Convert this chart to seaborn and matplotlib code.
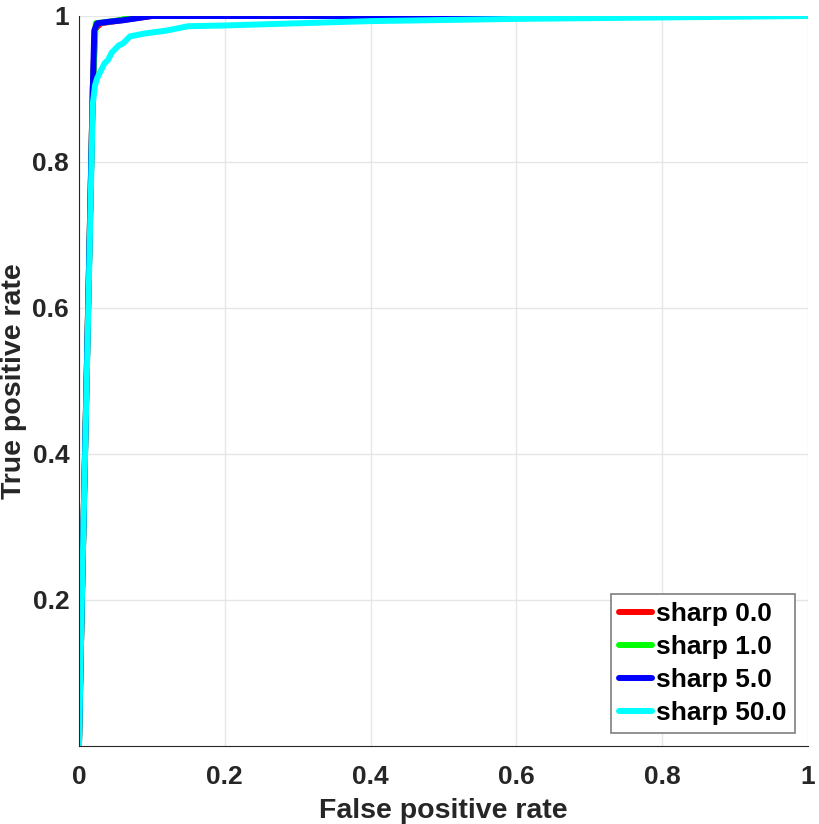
import pandas as pd
import matplotlib
matplotlib.use("Agg")
import matplotlib.pyplot as plt
import seaborn as sns

# ROC curves
fpr_s0 = [0, 0.004, 0.019, 0.022, 0.03, 0.05, 0.07, 0.1, 1.0]
tpr_s0 = [0, 0.2, 0.9, 0.982, 0.99, 0.993, 0.996, 1.0, 1.0]

fpr_s1 = [0, 0.004, 0.019, 0.023, 0.04, 0.06, 0.07, 0.08, 1.0]
tpr_s1 = [0, 0.2, 0.9, 0.99, 0.992, 0.995, 1.0, 1.0, 1.0]

fpr_s5 = [0, 0.004, 0.019, 0.021, 0.025, 0.04, 0.06, 0.08, 0.1, 1.0]
tpr_s5 = [0, 0.2, 0.9, 0.98, 0.99, 0.992, 0.994, 0.997, 1.0, 1.0]

fpr_s50 = [0, 0.004, 0.019, 0.022, 0.025, 0.03, 0.035, 0.04, 0.045, 0.05, 0.055,
           0.06, 0.07, 0.09, 0.12, 0.15, 0.2, 0.3, 0.4, 0.6, 0.8, 1.0]
tpr_s50 = [0, 0.2, 0.88, 0.905, 0.915, 0.925, 0.935, 0.94, 0.95, 0.955, 0.96,
           0.962, 0.972, 0.976, 0.98, 0.986, 0.987, 0.99, 0.993, 0.996, 0.998, 1.0]

labels = ["sharp 0.0", "sharp 1.0", "sharp 5.0", "sharp 50.0"]
colors = ["#ff0000", "#00ff00", "#0000ff", "#00ffff"]

frames = []
for lab, f, t in zip(labels, [fpr_s0, fpr_s1, fpr_s5, fpr_s50],
                     [tpr_s0, tpr_s1, tpr_s5, tpr_s50]):
    d = pd.DataFrame({"fpr": f, "tpr": t})
    d["curve"] = lab
    frames.append(d)
df = pd.concat(frames, ignore_index=True)

sns.set_style("white")
plt.rcParams["font.family"] = ["Liberation Sans", "DejaVu Sans"]
plt.rcParams["font.weight"] = "bold"

fig = plt.figure(figsize=(8.2, 8.24), dpi=100)
ax = fig.add_axes([0.0963, 0.0947, 0.8890, 0.8859])

sns.lineplot(data=df, x="fpr", y="tpr", hue="curve", hue_order=labels,
             palette=dict(zip(labels, colors)), sort=False, estimator=None,
             units="curve", linewidth=4.3, ax=ax)

ax.set_xlim(0, 1)
ax.set_ylim(0, 1)
ax.set_xticks([0, 0.2, 0.4, 0.6, 0.8, 1])
ax.set_xticklabels(["0", "0.2", "0.4", "0.6", "0.8", "1"])
ax.set_yticks([0.2, 0.4, 0.6, 0.8, 1])
ax.set_yticklabels(["0.2", "0.4", "0.6", "0.8", "1"])
ax.grid(True, color="#e6e6e6", linewidth=1)
ax.set_axisbelow(True)
for s in ["top", "right"]:
    ax.spines[s].set_visible(False)
ax.spines["left"].set_color("#262626")
ax.spines["bottom"].set_color("#262626")
ax.tick_params(axis="both", direction="in", length=5, colors="#262626",
               labelsize=19, pad=7)
ax.tick_params(axis="x", pad=14)
for lbl in ax.get_xticklabels() + ax.get_yticklabels():
    lbl.set_fontweight("bold")

ax.set_xlabel("False positive rate", fontsize=20.5, fontweight="bold",
              color="#262626", labelpad=6)
ax.set_ylabel("True positive rate", fontsize=20.5, fontweight="bold",
              color="#262626", labelpad=4)

leg = ax.legend(loc="lower right", fontsize=19, handlelength=1.25,
                handletextpad=0.15, borderpad=0.3, labelspacing=0.34,
                fancybox=False, framealpha=1, edgecolor="#7f7f7f",
                borderaxespad=0.5)
leg.get_frame().set_linewidth(1.2)
for t in leg.get_texts():
    t.set_fontweight("bold")
    t.set_color("black")
for h in leg.get_lines():
    h.set_linewidth(4.3)

fig.savefig("out.png", dpi=100)
